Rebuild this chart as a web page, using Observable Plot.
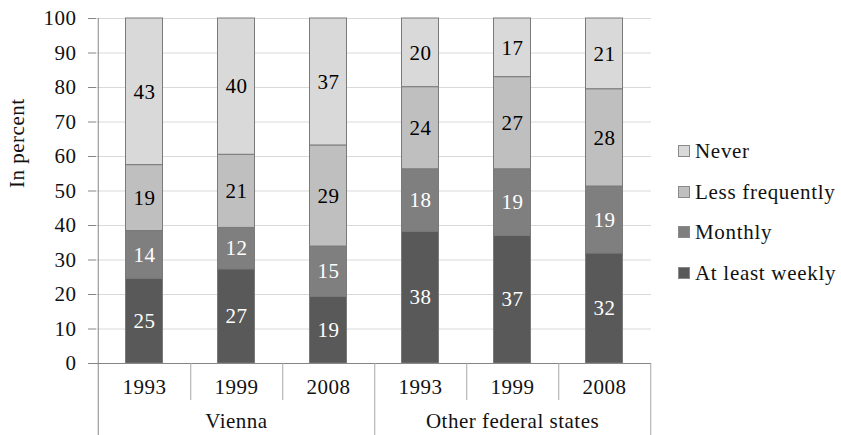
<!DOCTYPE html>
<html>
<head>
<meta charset="utf-8">
<script src="https://cdn.jsdelivr.net/npm/d3@7"></script>
<script src="https://cdn.jsdelivr.net/npm/@observablehq/plot@0.6"></script>
<style>
  html, body { margin: 0; padding: 0; background: #fff; }
  #wrap { position: relative; width: 841px; height: 435px; font-family: "Liberation Serif", "Times New Roman", serif; }
  #chart svg, #chart svg text { font-family: "Liberation Serif", "Times New Roman", serif !important; letter-spacing: 0.5px; }
  #legend { position: absolute; left: 678px; top: 0; }
  .item { position: absolute; left: 0; white-space: nowrap; font-size: 21px; line-height: 21px; color: #111; letter-spacing: 0.7px; }
  .sw { position: absolute; left: 0; top: 4px; width: 10px; height: 10px; border: 1px solid #8a8a8a; box-sizing: content-box; }
  .lab { position: absolute; left: 17px; top: 0; }
</style>
</head>
<body>
<div id="wrap"><div id="chart"></div><div id="legend"></div></div>
<script>
const groups = ["Vienna", "Other federal states"];
const years = ["1993", "1999", "2008"];
const categories = ["At least weekly", "Monthly", "Less frequently", "Never"];
const colors = ["#595959", "#7f7f7f", "#bfbfbf", "#d9d9d9"];
const labelColors = ["#ffffff", "#ffffff", "#000000", "#000000"];

// values per bar, in order: Vienna 1993, 1999, 2008, Other 1993, 1999, 2008
const weekly = [24.6, 27.3, 19.3, 38.2, 37.0, 31.9];
const monthly = [13.8, 12.0, 14.6, 18.1, 19.3, 19.4];
const lessFrequently = [19.1, 21.2, 29.3, 23.8, 26.7, 28.2];
const never = [42.5, 39.5, 36.8, 19.9, 17.0, 20.5];

const weeklyLabels = [25, 27, 19, 38, 37, 32];
const monthlyLabels = [14, 12, 15, 18, 19, 19];
const lessLabels = [19, 21, 29, 24, 27, 28];
const neverLabels = [43, 40, 37, 20, 17, 21];

const yTicks = [0, 10, 20, 30, 40, 50, 60, 70, 80, 90, 100];

const keys = groups.flatMap(g => years.map(y => g + "|" + y));
const series = [weekly, monthly, lessFrequently, never];
const seriesLabels = [weeklyLabels, monthlyLabels, lessLabels, neverLabels];

const rows = [];
categories.forEach((c, ci) => {
  keys.forEach((k, ki) => {
    rows.push({key: k, cat: c, ci, value: series[ci][ki], label: String(seriesLabels[ci][ki])});
  });
});

const W = 841, H = 435, ml = 96, mr = 190, mt = 18, mb = 72;
const bw = (W - ml - mr) / keys.length;
const axisColor = "#868686";
const sepColor = "#a6a6a6";
const FS = 21;

const yearSeps = groups.flatMap(g => years.slice(0, -1).map(y => g + "|" + y));
const groupSeps = groups.map(g => g + "|" + years[years.length - 1]);
const groupLabels = groups.map(g => ({key: g + "|" + years[1], text: g}));

const chart = Plot.plot({
  width: W, height: H,
  marginLeft: ml, marginRight: mr, marginTop: mt, marginBottom: mb,
  style: {fontFamily: '"Liberation Serif", "Times New Roman", serif', fontSize: FS + "px", color: "#111", background: "#fff"},
  x: {type: "band", domain: keys, padding: 0, axis: null, label: null},
  y: {domain: [0, 100], axis: null, label: null},
  color: {domain: categories, range: colors},
  marks: [
    Plot.gridY(yTicks.slice(1), {stroke: "#d9d9d9", strokeOpacity: 1}),
    Plot.barY(rows, {x: "key", y: "value", z: "cat", fill: "cat", stroke: "#7a7a7a", strokeWidth: 1, insetLeft: 27.5, insetRight: 27.5}),
    Plot.text(rows, Plot.stackY({x: "key", y: "value", z: "cat", text: d => labelColors[d.ci] === "#ffffff" ? d.label : null, fill: "#ffffff", fontSize: FS})),
    Plot.text(rows, Plot.stackY({x: "key", y: "value", z: "cat", text: d => labelColors[d.ci] === "#000000" ? d.label : null, fill: "#000000", fontSize: FS})),
    Plot.axisY({ticks: yTicks, tickSize: 8, tickPadding: 12, stroke: axisColor, tickFormat: d => String(d), fontSize: FS, label: null}),
    Plot.ruleY([0], {stroke: axisColor}),
    Plot.ruleX([keys[0]], {y1: 100, y2: -21, dx: -bw / 2, stroke: axisColor}),
    Plot.ruleX(yearSeps, {y1: 0, y2: -10.7, dx: bw / 2, stroke: sepColor}),
    Plot.ruleX(groupSeps, {y1: 0, y2: -21, dx: bw / 2, stroke: sepColor}),
    Plot.axisX({tickSize: 0, tickPadding: 16, tickFormat: k => k.split("|")[1], fontSize: FS, label: null}),
    Plot.text(groupLabels, {x: "key", text: "text", frameAnchor: "bottom", dy: 64, fontSize: FS}),
    Plot.text(["In percent"], {frameAnchor: "left", dx: -79, dy: -3, rotate: -90, fontSize: FS})
  ]
});
document.getElementById("chart").appendChild(chart);

const legend = document.getElementById("legend");
const legendOrder = categories.map((c, i) => i).reverse();
legendOrder.forEach((ci, row) => {
  const item = document.createElement("div");
  item.className = "item";
  item.style.top = (141 + row * 40.7) + "px";
  const sw = document.createElement("div");
  sw.className = "sw";
  sw.style.background = colors[ci];
  const lab = document.createElement("span");
  lab.className = "lab";
  lab.textContent = categories[ci];
  item.appendChild(sw);
  item.appendChild(lab);
  legend.appendChild(item);
});
</script>
</body>
</html>
